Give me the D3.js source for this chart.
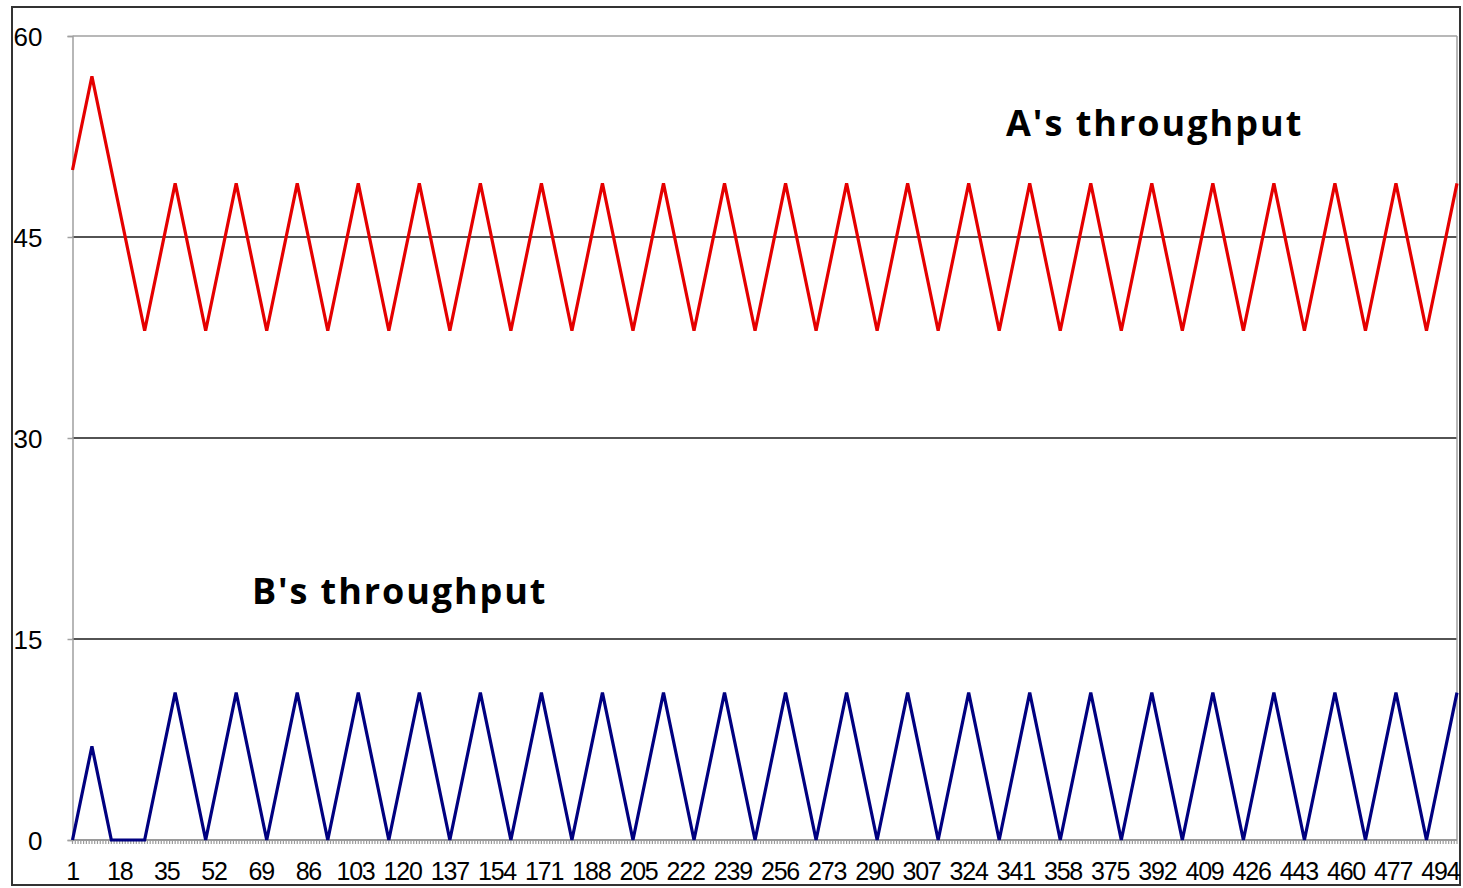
<!DOCTYPE html>
<html>
<head>
<meta charset="utf-8">
<script src="https://cdn.jsdelivr.net/npm/d3@7/dist/d3.min.js"></script>
<style>
html,body{margin:0;padding:0;background:#fff;}
svg{display:block;}
</style>
</head>
<body>
<svg id="chart" width="1463" height="888"></svg>
<script>
// ---- data (turning points) ----
const aTimes  = [1,8,27,38,49,60,71,82,93,104,115,126,137,148,159,170,181,192,203,214,225,236,247,258,269,280,291,302,313,324,335,346,357,368,379,390,401,412,423,434,445,456,467,478,489,500];
const aValues = [50,57,38,49,38,49,38,49,38,49,38,49,38,49,38,49,38,49,38,49,38,49,38,49,38,49,38,49,38,49,38,49,38,49,38,49,38,49,38,49,38,49,38,49,38,49];
const bTimes  = [1,8,15,27,38,49,60,71,82,93,104,115,126,137,148,159,170,181,192,203,214,225,236,247,258,269,280,291,302,313,324,335,346,357,368,379,390,401,412,423,434,445,456,467,478,489,500];
const bValues = [0,7,0,0,11,0,11,0,11,0,11,0,11,0,11,0,11,0,11,0,11,0,11,0,11,0,11,0,11,0,11,0,11,0,11,0,11,0,11,0,11,0,11,0,11,0,11];
const xTickLabels = [1,18,35,52,69,86,103,120,137,154,171,188,205,222,239,256,273,290,307,324,341,358,375,392,409,426,443,460,477,494];
const yTickLabels = [0,15,30,45,60];
const categoryCount = 500;
const seriesLabels = ["A's throughput","B's throughput"];

// ---- layout ----
const svg = d3.select("#chart");
const L = 72.5, R = 1457, T = 36, B = 840;
const x = d3.scaleLinear().domain([1, categoryCount]).range([L, R]);
const y = d3.scaleLinear().domain([0, 60]).range([B, T]);

// outer frame
svg.append("rect").attr("x",12).attr("y",7).attr("width",1448).attr("height",878)
  .attr("fill","#fff").attr("stroke","#333").attr("stroke-width",2);

// gridlines
yTickLabels.filter(v=>v>0).forEach(v=>{
  svg.append("line").attr("x1",L).attr("x2",R).attr("y1",y(v)).attr("y2",y(v))
    .attr("stroke", v===60 ? "#a0a0a0" : "#1a1a1a").attr("stroke-width", v===60?1.5:1.7);
});
// right border
svg.append("line").attr("x1",R).attr("x2",R).attr("y1",T).attr("y2",B)
  .attr("stroke","#a0a0a0").attr("stroke-width",1.5);

// y axis
const yAxis = d3.axisLeft(y).tickValues(yTickLabels).tickSize(5).tickPadding(26);
const gy = svg.append("g").attr("transform",`translate(${L},0)`).call(yAxis);
gy.select(".domain").attr("stroke","#a0a0a0").attr("stroke-width",1.5);
gy.selectAll(".tick line").attr("stroke","#a0a0a0").attr("stroke-width",1.5);
gy.selectAll(".tick text").attr("font-family","'Liberation Sans', Arial, sans-serif")
  .attr("font-size",26).attr("fill","#000").attr("x",-30).attr("text-anchor","end").attr("dy","0.36em");

// x axis: minor ticks for every category
const gx = svg.append("g");
gx.selectAll("line.cat").data(d3.range(1, categoryCount+1)).join("line")
  .attr("class","cat")
  .attr("x1",d=>x(d)).attr("x2",d=>x(d)).attr("y1",B).attr("y2",B+4)
  .attr("stroke","#9a9a9a").attr("stroke-width",1.2);
gx.append("line").attr("x1",L).attr("x2",R).attr("y1",B).attr("y2",B)
  .attr("stroke","#9a9a9a").attr("stroke-width",2);
gx.selectAll("text").data(xTickLabels).join("text")
  .attr("x",d=>x(d)).attr("y",880)
  .attr("text-anchor","middle")
  .attr("font-family","'Liberation Sans', Arial, sans-serif")
  .attr("font-size",25).attr("letter-spacing","-1.2")
  .attr("fill","#000").text(d=>d);

// series lines
const line = d3.line().x(d=>x(d[0])).y(d=>y(d[1]));
svg.append("path").datum(aTimes.map((t,i)=>[t,aValues[i]]))
  .attr("d",line).attr("fill","none").attr("stroke","#e50000").attr("stroke-width",3.2).attr("stroke-linejoin","miter");
svg.append("path").datum(bTimes.map((t,i)=>[t,bValues[i]]))
  .attr("d",line).attr("fill","none").attr("stroke","#000080").attr("stroke-width",3.2).attr("stroke-linejoin","miter");

// annotations
svg.append("text").attr("x",1006).attr("y",136).text(seriesLabels[0])
  .attr("font-family","'Open Sans', 'Noto Sans', sans-serif").attr("font-weight",700)
  .attr("font-size",36).attr("letter-spacing","2").attr("fill","#000");
svg.append("text").attr("x",252).attr("y",604).text(seriesLabels[1])
  .attr("font-family","'Open Sans', 'Noto Sans', sans-serif").attr("font-weight",700)
  .attr("font-size",36).attr("letter-spacing","1.9").attr("fill","#000");
</script>
</body>
</html>
